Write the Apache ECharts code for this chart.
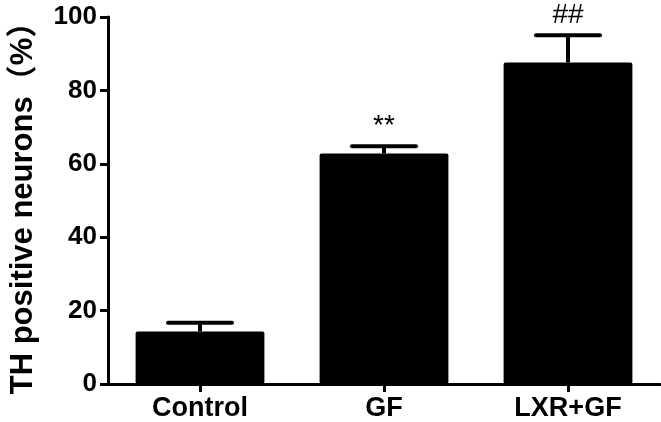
<!DOCTYPE html>
<html>
<head>
<meta charset="utf-8">
<script src="https://cdn.jsdelivr.net/npm/echarts@6/dist/echarts.min.js"></script>
<style>
  html, body { margin: 0; padding: 0; background: #fff; }
  #chart { width: 661px; height: 422px; }
</style>
</head>
<body>
<div id="chart"></div>
<script>
// data
const categories = ['Control', 'GF', 'LXR+GF']
const means = [14.3, 62.8, 87.6]
const errors = [2.4, 2.0, 7.4] // SEM, upper side only
const marks = ['', '**', '##']
const yTicks = [0, 20, 40, 60, 80, 100]

const FONT = '"Liberation Sans", Arial, "Noto Sans CJK SC", sans-serif'

const chart = echarts.init(document.getElementById('chart'))

const errorData = categories.map((c, i) => [i, means[i], means[i] + errors[i], marks[i]])

const option = {
  backgroundColor: '#fff',
  animation: false,
  grid: { left: 108, right: 1, top: 17, bottom: 38, containLabel: false, outerBoundsMode: 'none' },
  xAxis: {
    type: 'category',
    data: categories,
    axisLine: { lineStyle: { color: '#000', width: 3 } },
    axisTick: { show: true, alignWithLabel: true, length: 8, lineStyle: { color: '#000', width: 3 } },
    axisLabel: { color: '#000', fontSize: 27, fontWeight: 'bold', fontFamily: FONT, margin: 11 },
  },
  yAxis: {
    type: 'value',
    min: yTicks[0],
    max: yTicks[yTicks.length - 1],
    interval: 20,
    name: 'TH positive neurons（%）',
    nameLocation: 'middle',
    nameRotate: 90,
    nameGap: 69,
    nameTextStyle: { color: '#000', fontSize: 31, fontWeight: 'bold', fontFamily: FONT },
    axisLine: { show: true, lineStyle: { color: '#000', width: 3 } },
    axisTick: { show: true, length: 8, lineStyle: { color: '#000', width: 3 } },
    axisLabel: { color: '#000', fontSize: 26, fontWeight: 'bold', fontFamily: FONT, margin: 11 },
    splitLine: { show: false },
  },
  series: [
    {
      type: 'bar',
      data: means,
      barWidth: '70%',
      itemStyle: { color: '#000', borderRadius: 2 },
    },
    {
      type: 'custom',
      data: errorData,
      z: 5,
      renderItem: (params, api) => {
        const x = api.value(0)
        const base = api.coord([x, api.value(1)])
        const top = api.coord([x, api.value(2)])
        const half = 32
        const children = [
          { type: 'line', shape: { x1: base[0], y1: base[1], x2: top[0], y2: top[1] }, style: { stroke: '#000', lineWidth: 4 } },
          { type: 'line', shape: { x1: top[0] - half, y1: top[1], x2: top[0] + half, y2: top[1] }, style: { stroke: '#000', lineWidth: 4, lineCap: 'round' } },
        ]
        const mark = api.value(3)
        if (mark) {
          children.push({
            type: 'text',
            x: top[0],
            y: top[1] - 20,
            style: {
              text: mark,
              fill: '#000',
              font: '28px ' + FONT,
              align: 'center',
              verticalAlign: 'middle',
            },
          })
        }
        return { type: 'group', children }
      },
    },
  ],
}

chart.setOption(option)
</script>
</body>
</html>
